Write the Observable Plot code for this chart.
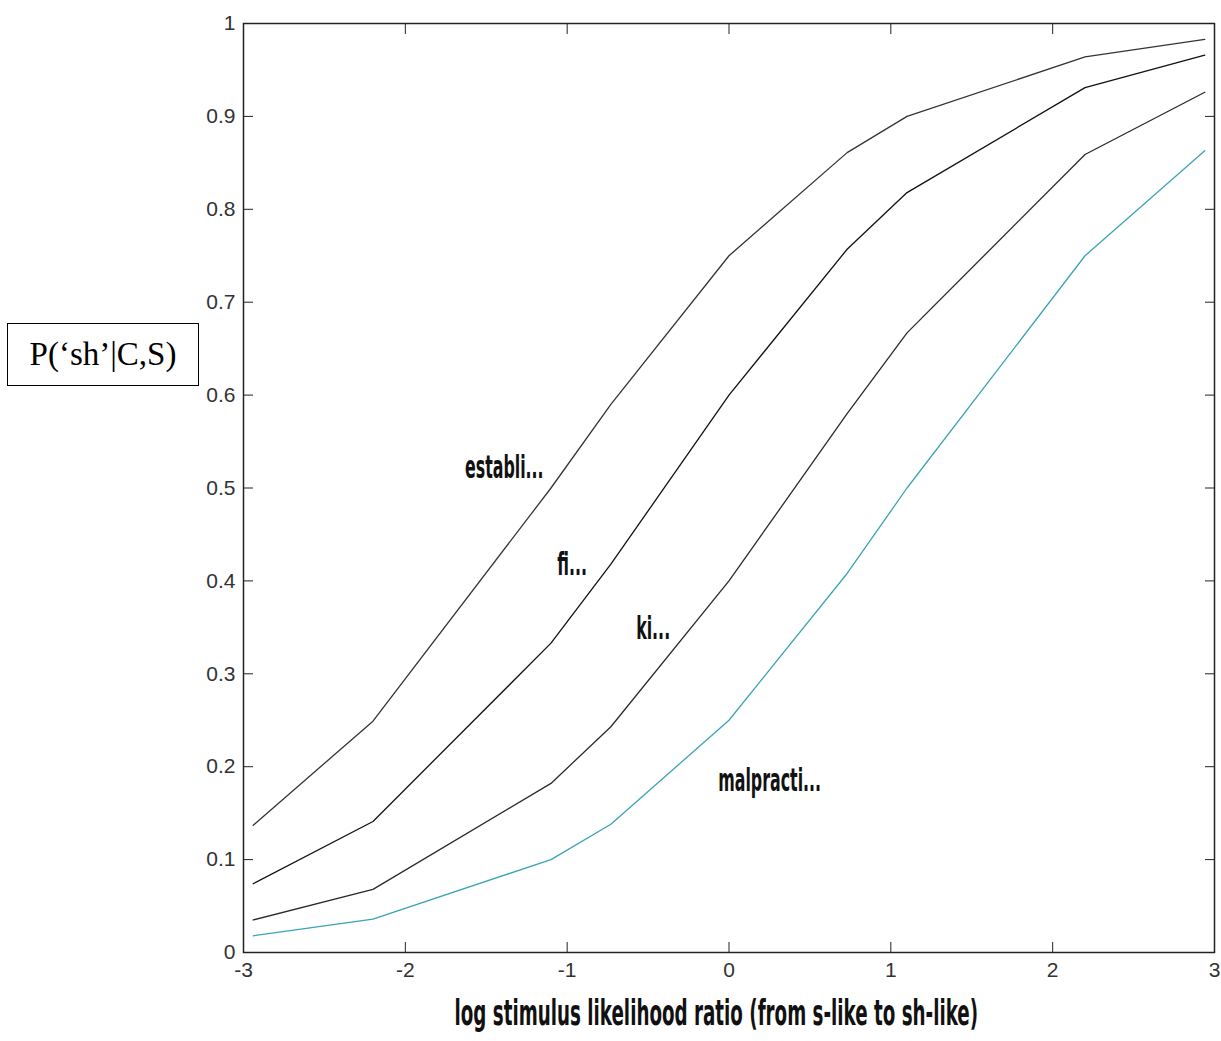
<!DOCTYPE html>
<html><head><meta charset="utf-8">
<script src="https://cdn.jsdelivr.net/npm/d3@7"></script>
<script src="https://cdn.jsdelivr.net/npm/@observablehq/plot@0.6"></script>
<style>
body{margin:0;background:#fff;}
#wrap{position:relative;width:1221px;height:1041px;}
#wrap svg{position:absolute;left:0;top:0;}
#ylab{position:absolute;left:7px;top:323px;width:190px;height:61px;border:1.5px solid #000;font-family:"Liberation Serif";font-size:33px;display:flex;align-items:center;justify-content:center;color:#000;z-index:2;background:#fff;}
</style></head><body>
<div id="wrap"><div id="ylab">P(‘sh’|C,S)</div></div>
<script>
const xValues   = [-2.94, -2.2, -1.1, -0.73, 0, 0.73, 1.1, 2.2, 2.94];
const establi   = [0.137, 0.249, 0.5, 0.59, 0.75, 0.861, 0.9, 0.964, 0.983];
const fi        = [0.074, 0.141, 0.333, 0.418, 0.6, 0.757, 0.818, 0.931, 0.966];
const ki        = [0.035, 0.068, 0.182, 0.243, 0.4, 0.58, 0.667, 0.859, 0.926];
const malpracti = [0.018, 0.036, 0.1, 0.138, 0.25, 0.408, 0.5, 0.75, 0.863];
const seriesNames  = ["establi...", "fi...", "ki...", "malpracti..."];
const seriesColors = ["#3a3232", "#111111", "#2a2a2a", "#3aa3b6"];
const labelX = [-1.39, -0.97, -0.47, 0.25];
const labelY = [0.522, 0.417, 0.349, 0.185];
const xTicks = [-3, -2, -1, 0, 1, 2, 3];
const yTicks = [0, 0.1, 0.2, 0.3, 0.4, 0.5, 0.6, 0.7, 0.8, 0.9, 1];
const xLabel = "log stimulus likelihood ratio (from s-like to sh-like)";

const seriesValues = [establi, fi, ki, malpracti];
const rows = [];
seriesNames.forEach((s, k) => xValues.forEach((x, i) => rows.push({series: s, x, y: seriesValues[k][i]})));
const labelRows = seriesNames.map((s, k) => ({text: s, x: labelX[k], y: labelY[k]}));
const blank = () => "";

const chart = Plot.plot({
  width: 1221, height: 1041,
  marginLeft: 243, marginRight: 7, marginTop: 23, marginBottom: 89,
  x: {domain: [-3, 3]},
  y: {domain: [0, 1]},
  color: {domain: seriesNames, range: seriesColors},
  style: {fontFamily: "Liberation Sans", fontSize: "21px", color: "#333", background: "white"},
  marks: [
    Plot.line(rows, {x: "x", y: "y", z: "series", stroke: "series", strokeWidth: 1.3}),
    Plot.text(labelRows, {x: "x", y: "y", text: "text", fontFamily: "DejaVu Sans Condensed", fontWeight: "bold", fontSize: 32, fill: "#111", stroke: "white", strokeWidth: 7, className: "lbl"}),
    Plot.axisX(xTicks, {anchor: "bottom", tickSize: -10, tickPadding: 20, tickFormat: d => String(d), label: null, stroke: "#222", fill: "#333"}),
    Plot.axisX(xTicks, {anchor: "top", tickSize: -10, tickFormat: blank, label: null, stroke: "#222"}),
    Plot.axisY(yTicks, {anchor: "left", tickSize: -10, tickPadding: 18, tickFormat: d => String(d), label: null, stroke: "#222", fill: "#333"}),
    Plot.axisY(yTicks, {anchor: "right", tickSize: -10, tickFormat: blank, label: null, stroke: "#222"}),
    Plot.frame({stroke: "#222", strokeWidth: 1.5}),
    Plot.text([xLabel], {frameAnchor: "bottom", dy: 72, dx: -9, text: d => d, fontFamily: "DejaVu Sans Condensed", fontWeight: "bold", fontSize: 36, fill: "#111", className: "xlbl"})
  ]
});
document.getElementById("wrap").prepend(chart);
// narrow the bold label glyphs horizontally around each label's own centre
const svgRect = chart.getBoundingClientRect();
function squeezeText(selector, s) {
  chart.querySelectorAll(selector).forEach(t => {
    const r = t.getBoundingClientRect();
    const cx = r.x + r.width / 2 - svgRect.x;
    const g = document.createElementNS("http://www.w3.org/2000/svg", "g");
    g.setAttribute("transform", `translate(${cx},0) scale(${s},1) translate(${-cx},0)`);
    t.parentNode.insertBefore(g, t);
    g.appendChild(t);
  });
}
squeezeText(".lbl text", 0.55);
squeezeText(".xlbl text", 0.565);
</script>
</body></html>
